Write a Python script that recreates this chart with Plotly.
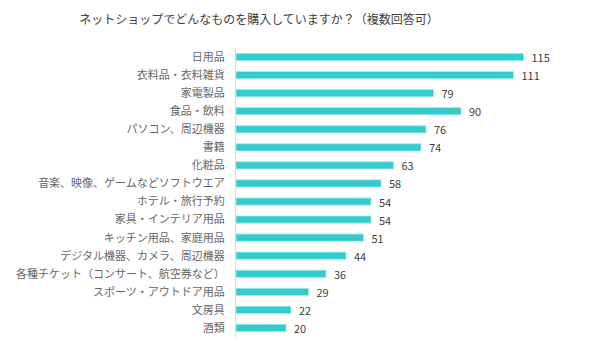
import plotly.graph_objects as go

title_text = "ネットショップでどんなものを購入していますか？（複数回答可）"
categories = [
    "日用品", "衣料品・衣料雑貨", "家電製品", "食品・飲料", "パソコン、周辺機器",
    "書籍", "化粧品", "音楽、映像、ゲームなどソフトウエア", "ホテル・旅行予約",
    "家具・インテリア用品", "キッチン用品、家庭用品", "デジタル機器、カメラ、周辺機器",
    "各種チケット（コンサート、航空券など）", "スポーツ・アウトドア用品", "文房具", "酒類",
]
values = [115, 111, 79, 90, 76, 74, 63, 58, 54, 54, 51, 44, 36, 29, 22, 20]

FONT = "Noto Sans CJK JP"

fig = go.Figure(go.Bar(
    x=values,
    y=categories,
    orientation="h",
    width=0.4,
    marker=dict(color="#33CCCC", line=dict(color="#A6E9E9", width=0.8)),
    text=values,
    texttemplate="  %{x}",
    textposition="outside",
    constraintext="none",
    textfont=dict(family=FONT, size=11, color="#404040"),
    cliponaxis=False,
    hoverinfo="skip",
))

fig.update_layout(
    width=600, height=351,
    margin=dict(l=236, r=14, t=48, b=14),
    paper_bgcolor="white", plot_bgcolor="white",
    font=dict(family=FONT, size=11, color="#666666"),
    title=dict(text=title_text, x=259/600, xanchor="center", y=1 - 20/351, yanchor="middle",
               font=dict(family=FONT, size=12, color="#404040")),
    showlegend=False,
    bargap=0.6,
)
fig.update_xaxes(range=[0, 140], visible=False, fixedrange=True)
fig.update_yaxes(autorange="reversed", showline=True, linecolor="#D9D9D9", linewidth=1,
                 ticks="", showgrid=False, ticklabelstandoff=8,
                 tickfont=dict(family=FONT, size=11, color="#666666"), fixedrange=True)

fig.write_html("out.html")
